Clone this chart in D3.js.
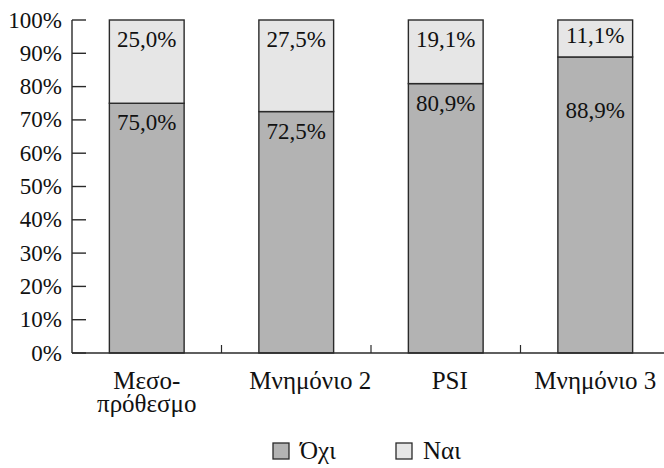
<!DOCTYPE html>
<html>
<head>
<meta charset="utf-8">
<script src="https://cdn.jsdelivr.net/npm/d3@7"></script>
</head>
<body style="margin:0">
<svg id="fig" width="664" height="468">
<g id="plotroot" font-family="Liberation Serif"></g>
</svg>
<script>
// ---- data ----
const categories = ["Μεσο-\nπρόθεσμο", "Μνημόνιο 2", "PSI", "Μνημόνιο 3"];
const oxiValues = [75.0, 72.5, 80.9, 88.9];   // Όχι (%)
const naiValues = [25.0, 27.5, 19.1, 11.1];   // Ναι (%)
const seriesNames = ["Όχι", "Ναι"];
const yTicks = [0, 10, 20, 30, 40, 50, 60, 70, 80, 90, 100];

// ---- layout / style ----
const FONT = "Liberation Serif";
const colors = { "Όχι": "#b3b3b3", "Ναι": "#e6e6e6" };
const stroke = "#2a2a2a";
const textColor = "#111";
const plotLeft = 72, plotRight = 670, plotTop = 20, plotBottom = 353;
const catLabelNudge = [0, 14, 4, 0];     // horizontal nudges of category labels
const oxiLabelShift = [0, 0, 0, 34];     // vertical nudges of value labels
const naiLabelShift = [0, 0, 0, -4];

const fmt = v => v.toFixed(1).replace(".", ",") + "%";

const svg = d3.select("#plotroot");

const x = d3.scaleBand().domain(categories).range([plotLeft, plotRight])
  .paddingInner(0.5).paddingOuter(0.25);
const y = d3.scaleLinear().domain([0, 100]).range([plotBottom, plotTop]);

const rows = categories.map((c, i) => ({ cat: c, "Όχι": oxiValues[i], "Ναι": naiValues[i], i }));
const stack = d3.stack().keys(seriesNames)(rows);

function styleText(sel, size) {
  return sel.attr("font-family", FONT).attr("fill", textColor).attr("font-size", size);
}

// bars
const g = svg.append("g");
stack.forEach(layer => {
  g.selectAll(null).data(layer).enter().append("rect")
    .attr("x", d => x(d.data.cat))
    .attr("y", d => y(d[1]))
    .attr("width", x.bandwidth())
    .attr("height", d => y(d[0]) - y(d[1]))
    .attr("fill", colors[layer.key])
    .attr("stroke", stroke)
    .attr("stroke-width", 1.4);
});

// value labels
stack.forEach(layer => {
  const shift = layer.key === "Όχι" ? oxiLabelShift : naiLabelShift;
  styleText(g.selectAll(null).data(layer).enter().append("text"), 23)
    .attr("x", d => x(d.data.cat) + x.bandwidth() / 2)
    .attr("y", d => y(d[1]) + 27 + shift[d.data.i])
    .attr("text-anchor", "middle")
    .text(d => fmt(d.data[layer.key]));
});

// y axis: line, inward ticks, labels
svg.append("line").attr("x1", plotLeft).attr("x2", plotLeft).attr("y1", plotTop).attr("y2", plotBottom)
  .attr("stroke", stroke).attr("stroke-width", 1.4);
svg.append("g").selectAll("line").data(yTicks).enter().append("line")
  .attr("x1", plotLeft).attr("x2", plotLeft + 14)
  .attr("y1", d => y(d)).attr("y2", d => y(d))
  .attr("stroke", stroke).attr("stroke-width", 1.4);
styleText(svg.append("g").selectAll("text").data(yTicks).enter().append("text"), 23)
  .attr("x", plotLeft - 10)
  .attr("y", d => y(d))
  .attr("dy", "0.33em")
  .attr("text-anchor", "end")
  .text(d => d + "%");

// x axis baseline and minor ticks between bars
svg.append("line").attr("x1", plotLeft).attr("x2", plotRight).attr("y1", plotBottom).attr("y2", plotBottom)
  .attr("stroke", stroke).attr("stroke-width", 1.6);
const step = x.step();
svg.append("g").selectAll("line").data(categories.slice(1)).enter().append("line")
  .attr("x1", d => x(d) - (step - x.bandwidth()) / 2)
  .attr("x2", d => x(d) - (step - x.bandwidth()) / 2)
  .attr("y1", plotBottom).attr("y2", plotBottom - 8)
  .attr("stroke", stroke).attr("stroke-width", 1.2);

// category labels
categories.forEach((c, i) => {
  const cx = x(c) + x.bandwidth() / 2 + catLabelNudge[i];
  const t = styleText(svg.append("text"), 25)
    .attr("x", cx)
    .attr("y", 389)
    .attr("text-anchor", "middle");
  c.split("\n").forEach((line, k) => {
    t.append("tspan")
      .attr("x", cx)
      .attr("dy", k === 0 ? 0 : 23)
      .text(line);
  });
});

// legend
const legendX = [273, 396];
seriesNames.forEach((s, i) => {
  svg.append("rect").attr("x", legendX[i]).attr("y", 443).attr("width", 16).attr("height", 16)
    .attr("fill", colors[s]).attr("stroke", stroke).attr("stroke-width", 1.3);
  styleText(svg.append("text"), 25)
    .attr("x", legendX[i] + 27).attr("y", 459)
    .text(s);
});
</script>
</body>
</html>
